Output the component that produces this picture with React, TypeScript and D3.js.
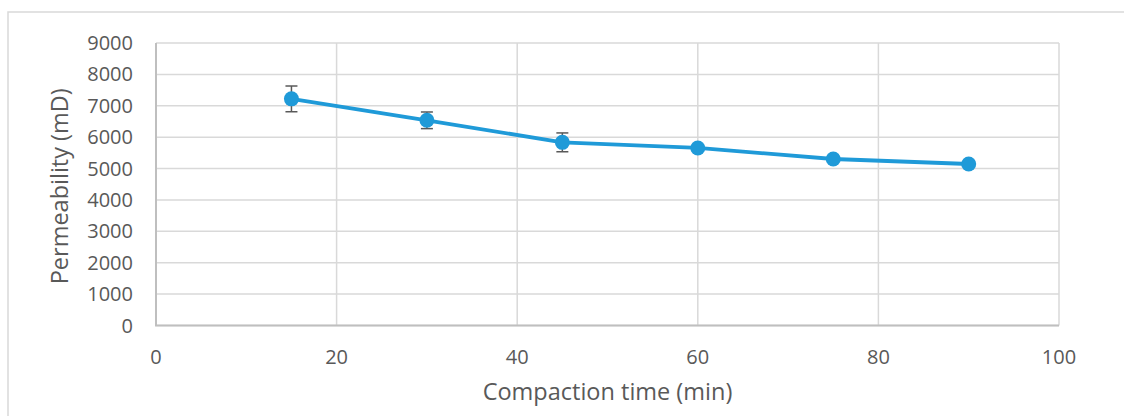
import React from "react";
import * as d3 from "d3";

const times = [15, 30, 45, 60, 75, 90];
const permeability = [7220, 6537, 5835, 5656, 5305, 5145];
const errors = [410, 265, 300, 0, 0, 0];
const xTicks = [0, 20, 40, 60, 80, 100];
const yTicks = [0, 1000, 2000, 3000, 4000, 5000, 6000, 7000, 8000, 9000];

const W = 1124;
const H = 416;
const left = 156;
const right = 1059;
const top = 43;
const bottom = 325.5;
const textColor = "#595959";
const font = "'Open Sans', 'Liberation Sans', sans-serif";

export default function App() {
  const x = d3.scaleLinear().domain([0, 100]).range([left, right]);
  const y = d3.scaleLinear().domain([0, 9000]).range([bottom, top]);
  const line = d3
    .line<number>()
    .x((_, i) => x(times[i]))
    .y((d) => y(d));

  return (
    <svg
      width={W}
      height={H}
      style={{ position: "absolute", left: 0, top: 0, background: "#fff" }}
      fontFamily={font}
    >
      <rect x={8} y={12} width={W + 20} height={H + 20} fill="#fff" stroke="#d9d9d9" strokeWidth={1.5} />
      {yTicks.map((t) => (
        <line key={"gy" + t} x1={left} x2={right} y1={y(t)} y2={y(t)} stroke="#d9d9d9" strokeWidth={1.5} />
      ))}
      {xTicks.map((t) => (
        <line key={"gx" + t} x1={x(t)} x2={x(t)} y1={top} y2={bottom} stroke="#d9d9d9" strokeWidth={1.5} />
      ))}
      <line x1={left} x2={left} y1={top} y2={bottom} stroke="#bfbfbf" strokeWidth={2} />
      <line x1={left - 1} x2={right} y1={bottom} y2={bottom} stroke="#bfbfbf" strokeWidth={2} />
      {yTicks.map((t) => (
        <text key={"ty" + t} x={133} y={y(t)} dy="0.35em" textAnchor="end" fontSize={20} fill={textColor}>
          {t}
        </text>
      ))}
      {xTicks.map((t) => (
        <text key={"tx" + t} x={x(t)} y={357} dy="0.35em" textAnchor="middle" fontSize={20} fill={textColor}>
          {t}
        </text>
      ))}
      <text x={(left + right) / 2} y={392} dy="0.35em" textAnchor="middle" fontSize={23.5} fill={textColor}>
        Compaction time (min)
      </text>
      <text
        transform={`translate(60, ${(top + bottom) / 2 + 2}) rotate(-90)`}
        dy="0.35em"
        textAnchor="middle"
        fontSize={23.5}
        fill={textColor}
      >
        Permeability (mD)
      </text>
      <path d={line(permeability) || ""} fill="none" stroke="#1f9ad8" strokeWidth={3.8} strokeLinejoin="round" />
      {permeability.map((v, i) =>
        errors[i] > 0 ? (
          <g key={"e" + i} stroke="#595959" strokeWidth={1.5}>
            <line x1={x(times[i])} x2={x(times[i])} y1={y(v + errors[i])} y2={y(v - errors[i])} />
            <line x1={x(times[i]) - 6} x2={x(times[i]) + 6} y1={y(v + errors[i])} y2={y(v + errors[i])} />
            <line x1={x(times[i]) - 6} x2={x(times[i]) + 6} y1={y(v - errors[i])} y2={y(v - errors[i])} />
          </g>
        ) : null
      )}
      {permeability.map((v, i) => (
        <circle key={"c" + i} cx={x(times[i])} cy={y(v)} r={7.5} fill="#1f9ad8" />
      ))}
    </svg>
  );
}
